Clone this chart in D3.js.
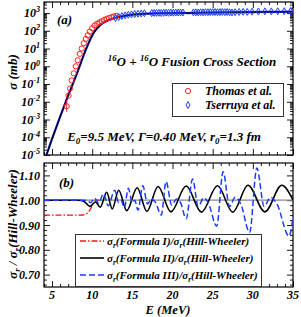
<!DOCTYPE html>
<html>
<head>
<meta charset="utf-8">
<script src="https://cdn.jsdelivr.net/npm/d3@7"></script>
<style>
body { margin: 0; background: #fff; }
svg { display: block; }
text { font-family: "Liberation Serif", "Times New Roman", serif; font-weight: bold; font-style: italic; fill: #000; }
</style>
</head>
<body>
<script>
// ---- panel (a): fusion cross section (mb) ----
var theoryE = [4.0, 4.3, 5, 6, 7, 8, 8.5, 9, 9.5, 10, 10.5, 11, 12, 13, 14, 15, 17, 19, 21, 22, 23, 26, 29, 32, 35];
var theorySigma = [4e-6, 1e-5, 8e-5, 1.4e-3, 2.2e-2, 0.3, 1.2, 5, 18, 55, 120, 210, 390, 560, 700, 810, 930, 990, 1020, 1000, 1040, 1080, 1120, 1160, 1200];

var thomasE = [6.83, 7.05, 7.25, 7.45, 7.7, 7.95, 8.2, 8.45, 8.7, 8.95, 9.2, 9.45, 9.7, 10.0, 10.3, 10.6, 10.9, 11.2, 11.5, 11.8, 12.1, 12.4, 12.7, 13.0];
var thomasSigma = [5.6e-3, 2.2e-2, 5.6e-2, 0.16, 0.4, 1.0, 2.2, 5.0, 10, 20, 35, 56, 90, 140, 200, 250, 300, 350, 410, 470, 530, 590, 650, 700];
var thomasErr = [[6.83, 2.7e-3, 1.2e-2]];

var tserruyaE = [12.9, 13.3, 13.7, 14.1, 14.5, 14.9, 15.3, 15.7, 16.1, 16.5,
  17.4, 17.7, 18.0, 18.3, 18.6, 18.9, 19.2, 19.5, 19.8, 20.1, 20.4, 20.7, 21.0, 21.3,
  22.6, 22.9, 23.2, 23.5, 23.8, 24.1, 24.4, 24.7, 25.0, 25.3, 25.6, 25.9, 26.2, 26.5, 26.8, 27.1, 27.4,
  27.8, 28.3, 28.8, 29.3, 29.9, 30.7, 31.5, 32.3, 33.1, 33.9, 34.7];
var tserruyaSigma = [520, 600, 680, 740, 800, 850, 880, 920, 950, 980,
  1000, 1010, 1020, 1030, 1010, 1040, 1050, 1030, 1060, 1050, 1070, 1060, 1080, 1070,
  1090, 1100, 1080, 1110, 1100, 1120, 1110, 1130, 1120, 1140, 1110, 1130, 1150, 1120, 1140, 1100, 1080,
  1120, 1150, 1170, 1160, 1200, 1230, 1250, 1240, 1260, 1270, 1280];

// ---- panel (b): ratios to Hill-Wheeler ----
var ratio1E = [4, 8.6, 9.0, 9.4, 9.8, 10.2, 10.6, 10.9];
var ratio1 = [0.94, 0.94, 0.942, 0.948, 0.965, 0.99, 1.0, 1.0];

var ratio2E = [4, 8.3, 9.0, 9.7, 10.4, 11.0, 11.8, 12.5, 13.3, 14.3, 15.6, 16.8, 18.2, 19.8, 21.7, 23.6, 25.6, 27.5, 29.4, 31.5, 33.6, 35];
var ratio2 = [1.0, 1.0, 0.995, 0.975, 0.993, 0.972, 1.032, 0.965, 1.04, 0.958, 1.05, 0.955, 1.055, 0.953, 1.057, 0.952, 1.058, 0.952, 1.06, 0.953, 1.06, 1.0];

var ratio3E = [4, 9.3, 9.8, 10.3, 10.8, 11.4, 12.0, 12.8, 13.3, 13.6, 14.0, 14.5, 15.0, 15.3, 15.7, 16.3, 16.9, 17.4, 17.9, 18.6, 19.2, 19.9, 20.5, 21.0,
  21.7, 22.5, 23.2, 23.9, 24.5, 25.5, 26.3, 27.1, 27.8, 28.5, 29.6, 30.5, 31.4, 32.2, 33.0, 34.5, 35.0];
var ratio3 = [1.0, 1.0, 0.99, 1.008, 0.988, 1.026, 0.978, 1.04, 0.99, 1.0, 0.97, 1.048, 0.99, 1.0, 0.96, 1.058, 0.985, 1.005, 0.99, 0.94, 1.075, 0.98, 1.005, 0.99,
  0.925, 1.085, 0.975, 1.01, 0.985, 0.895, 1.115, 0.975, 1.012, 0.985, 0.87, 1.13, 0.975, 1.012, 0.985, 0.855, 0.93];

var xTicks = [5, 10, 15, 20, 25, 30, 35];
var ratioTicks = [0.7, 0.8, 0.9, 1.0, 1.1];

var width = 301, height = 317;
var left = 44, right = 293;

var svg = d3.select("body").append("svg")
  .attr("width", width)
  .attr("height", height);

// writes text with super/subscripts: parts = [[str, "n"|"sup"|"sub"], ...]
function rich(t, parts, size) {
  var cur = 0;
  parts.forEach(function(p) {
    var off = p[1] == "sup" ? -0.38 * size : (p[1] == "sub" ? 0.25 * size : 0);
    var ts = t.append("tspan").text(p[0]).attr("dy", off - cur);
    if (p[1] != "n") ts.attr("font-size", size * 0.68);
    cur = off;
  });
  return t;
}

function pairs(xs, ys) { return xs.map(function(x, i) { return [x, ys[i]]; }); }

function frameTicks(g, x, y, top, bottom, yMajor, yMinor) {
  var xMinor = d3.range(4, 36).filter(function(v) { return v % 5 != 0; });
  g.append("g").attr("transform", "translate(0," + bottom + ")")
    .call(d3.axisBottom(x).tickValues(xTicks).tickSize(-6).tickFormat(""));
  g.append("g").attr("transform", "translate(0," + bottom + ")")
    .call(d3.axisBottom(x).tickValues(xMinor).tickSize(-3).tickFormat(""));
  g.append("g").attr("transform", "translate(0," + top + ")")
    .call(d3.axisTop(x).tickValues(xTicks).tickSize(-6).tickFormat(""));
  g.append("g").attr("transform", "translate(0," + top + ")")
    .call(d3.axisTop(x).tickValues(xMinor).tickSize(-3).tickFormat(""));
  g.append("g").attr("transform", "translate(" + left + ",0)")
    .call(d3.axisLeft(y).tickValues(yMajor).tickSize(-6).tickFormat(""));
  g.append("g").attr("transform", "translate(" + left + ",0)")
    .call(d3.axisLeft(y).tickValues(yMinor).tickSize(-3).tickFormat(""));
  g.append("g").attr("transform", "translate(" + right + ",0)")
    .call(d3.axisRight(y).tickValues(yMajor).tickSize(-6).tickFormat(""));
  g.append("g").attr("transform", "translate(" + right + ",0)")
    .call(d3.axisRight(y).tickValues(yMinor).tickSize(-3).tickFormat(""));
  g.selectAll(".domain").remove();
  g.selectAll(".tick line").attr("stroke", "#000").attr("stroke-width", 0.9);
  g.append("rect")
    .attr("x", left).attr("y", top)
    .attr("width", right - left).attr("height", bottom - top)
    .attr("fill", "none").attr("stroke", "#000").attr("stroke-width", 1.2);
}

/* ---------------- panel (a) ---------------- */
var topA = 2, bottomA = 155;
var xA = d3.scaleLinear().domain([4, 35]).range([left, right]);
var yA = d3.scaleLog().domain([1e-5, 4200]).range([bottomA, topA]);

var decades = d3.range(-5, 4).map(function(e) { return Math.pow(10, e); });
var logMinor = [];
d3.range(-5, 4).forEach(function(e) {
  for (var k = 2; k <= 9; k++) {
    var v = k * Math.pow(10, e);
    if (v < 4200) logMinor.push(v);
  }
});

svg.append("clipPath").attr("id", "clipA").append("rect")
  .attr("x", left).attr("y", topA).attr("width", right - left).attr("height", bottomA - topA);

var gA = svg.append("g");
frameTicks(gA, xA, yA, topA, bottomA, decades, logMinor);

gA.selectAll(".ylabA").data(d3.range(-5, 4)).enter().append("text")
  .attr("x", 40).attr("y", function(e) { return yA(Math.pow(10, e)) + 4; })
  .attr("text-anchor", "end").attr("font-size", 12)
  .each(function(e) { rich(d3.select(this), [["10", "n"], [String(e), "sup"]], 12); });

var theoryLine = d3.line()
  .x(function(d) { return xA(d[0]); })
  .y(function(d) { return yA(d[1]); })
  .curve(d3.curveMonotoneX);

var curvesA = gA.append("g").attr("clip-path", "url(#clipA)");
curvesA.append("path").datum(pairs(theoryE, theorySigma))
  .attr("d", theoryLine).attr("fill", "none").attr("stroke", "#1020e0").attr("stroke-width", 2.2);
curvesA.append("path").datum(pairs(theoryE, theorySigma))
  .attr("d", theoryLine).attr("fill", "none").attr("stroke", "#000").attr("stroke-width", 1.1);

curvesA.selectAll(".err").data(thomasErr).enter().append("line")
  .attr("x1", function(d) { return xA(d[0]); }).attr("x2", function(d) { return xA(d[0]); })
  .attr("y1", function(d) { return yA(d[1]); }).attr("y2", function(d) { return yA(d[2]); })
  .attr("stroke", "#ff2020").attr("stroke-width", 1);

curvesA.selectAll(".thomas").data(pairs(thomasE, thomasSigma)).enter().append("circle")
  .attr("cx", function(d) { return xA(d[0]); }).attr("cy", function(d) { return yA(d[1]); })
  .attr("r", 2.6).attr("fill", "none").attr("stroke", "#ff2020").attr("stroke-width", 1);

var diamond = d3.symbol().type(d3.symbolDiamond).size(14);
curvesA.selectAll(".tserruya").data(pairs(tserruyaE, tserruyaSigma)).enter().append("path")
  .attr("d", diamond)
  .attr("transform", function(d) { return "translate(" + xA(d[0]) + "," + yA(d[1]) + ")"; })
  .attr("fill", "none").attr("stroke", "#2040ff").attr("stroke-width", 1);

gA.append("text").attr("x", 57).attr("y", 24).attr("font-size", 13).text("(a)");

rich(gA.append("text").attr("x", 192).attr("y", 66).attr("text-anchor", "middle").attr("font-size", 13),
  [["16", "sup"], ["O + ", "n"], ["16", "sup"], ["O Fusion Cross Section", "n"]], 13);

rich(gA.append("text").attr("x", 164).attr("y", 141).attr("text-anchor", "middle").attr("font-size", 13),
  [["E", "n"], ["0", "sub"], ["=9.5 MeV, \u0393=0.40 MeV, r", "n"], ["0", "sub"], ["=1.3 fm", "n"]], 13);

// legend (a)
var legA = gA.append("g");
legA.append("rect").attr("x", 172.5).attr("y", 83.5).attr("width", 111).attr("height", 33)
  .attr("fill", "#fff").attr("stroke", "#333").attr("stroke-width", 1);
legA.append("circle").attr("cx", 188).attr("cy", 91).attr("r", 2.6)
  .attr("fill", "none").attr("stroke", "#ff2020");
legA.append("path").attr("d", diamond).attr("transform", "translate(188,105)")
  .attr("fill", "none").attr("stroke", "#2040ff");
legA.append("text").attr("x", 205).attr("y", 95).attr("font-size", 12).text("Thomas et al.");
legA.append("text").attr("x", 205).attr("y", 109).attr("font-size", 12).text("Tserruya et al.");

svg.append("text").attr("transform", "translate(17,72) rotate(-90)")
  .attr("text-anchor", "middle").attr("font-size", 13).text("\u03c3 (mb)");

/* ---------------- panel (b) ---------------- */
var topB = 163, bottomB = 287;
var xB = d3.scaleLinear().domain([4, 35]).range([left, right]);
var yB = d3.scaleLinear().domain([0.65, 1.15]).range([bottomB, topB]);
var ratioMinor = d3.range(66, 115, 2).filter(function(v) { return v % 10 != 0; }).map(function(v) { return v / 100; });

svg.append("clipPath").attr("id", "clipB").append("rect")
  .attr("x", left).attr("y", topB).attr("width", right - left).attr("height", bottomB - topB);

var gB = svg.append("g");
frameTicks(gB, xB, yB, topB, bottomB, ratioTicks, ratioMinor);

gB.selectAll(".ylabB").data(ratioTicks).enter().append("text")
  .attr("x", 40).attr("y", function(d) { return yB(d) + 4.5; })
  .attr("text-anchor", "end").attr("font-size", 12)
  .text(function(d) { return d3.format(".2f")(d); });

gB.selectAll(".xlab").data(xTicks).enter().append("text")
  .attr("x", function(d) { return xB(d); }).attr("y", 299)
  .attr("text-anchor", "middle").attr("font-size", 12)
  .text(function(d) { return d; });

var ratioLine = d3.line()
  .x(function(d) { return xB(d[0]); })
  .y(function(d) { return yB(d[1]); })
  .curve(d3.curveMonotoneX);

var curvesB = gB.append("g").attr("clip-path", "url(#clipB)");
curvesB.append("line")
  .attr("x1", left).attr("x2", right).attr("y1", yB(1)).attr("y2", yB(1))
  .attr("stroke", "#888").attr("stroke-width", 1.2);
curvesB.append("path").datum(pairs(ratio1E, ratio1)).attr("d", ratioLine)
  .attr("fill", "none").attr("stroke", "#ff1010").attr("stroke-width", 1.3)
  .attr("stroke-dasharray", "6,2,1.5,2");
curvesB.append("path").datum(pairs(ratio2E, ratio2)).attr("d", ratioLine)
  .attr("fill", "none").attr("stroke", "#000").attr("stroke-width", 1.6);
curvesB.append("path").datum(pairs(ratio3E, ratio3)).attr("d", ratioLine)
  .attr("fill", "none").attr("stroke", "#1a3cff").attr("stroke-width", 1.5)
  .attr("stroke-dasharray", "6,3");

gB.append("text").attr("x", 59).attr("y", 187).attr("font-size", 13).text("(b)");

// legend (b)
var legB = gB.append("g");
legB.append("rect").attr("x", 75.5).attr("y", 234.5).attr("width", 186).attr("height", 52)
  .attr("fill", "#fff").attr("stroke", "#333").attr("stroke-width", 1);
var legItems = [
  {label: "Formula I", color: "#ff1010", dash: "6,2,1.5,2", w: 1.3},
  {label: "Formula II", color: "#000", dash: null, w: 1.6},
  {label: "Formula III", color: "#1a3cff", dash: "6,3", w: 1.5}
];
legItems.forEach(function(it, i) {
  var y = 241 + i * 17;
  legB.append("line").attr("x1", 80).attr("x2", 104).attr("y1", y).attr("y2", y)
    .attr("stroke", it.color).attr("stroke-width", it.w)
    .attr("stroke-dasharray", it.dash);
  rich(legB.append("text").attr("x", 107).attr("y", y + 4).attr("font-size", 11),
    [["\u03c3", "n"], ["r", "sub"], ["(" + it.label + ")/\u03c3", "n"], ["r", "sub"], ["(Hill-Wheeler)", "n"]], 11);
});

rich(svg.append("text").attr("transform", "translate(17,224) rotate(-90)")
  .attr("text-anchor", "middle").attr("font-size", 13),
  [["\u03c3", "n"], ["r", "sub"], [" / \u03c3", "n"], ["r", "sub"], ["(Hill-Wheeler)", "n"]], 13);

svg.append("text").attr("x", 168).attr("y", 314)
  .attr("text-anchor", "middle").attr("font-size", 12.5).text("E (MeV)");
</script>
</body>
</html>
